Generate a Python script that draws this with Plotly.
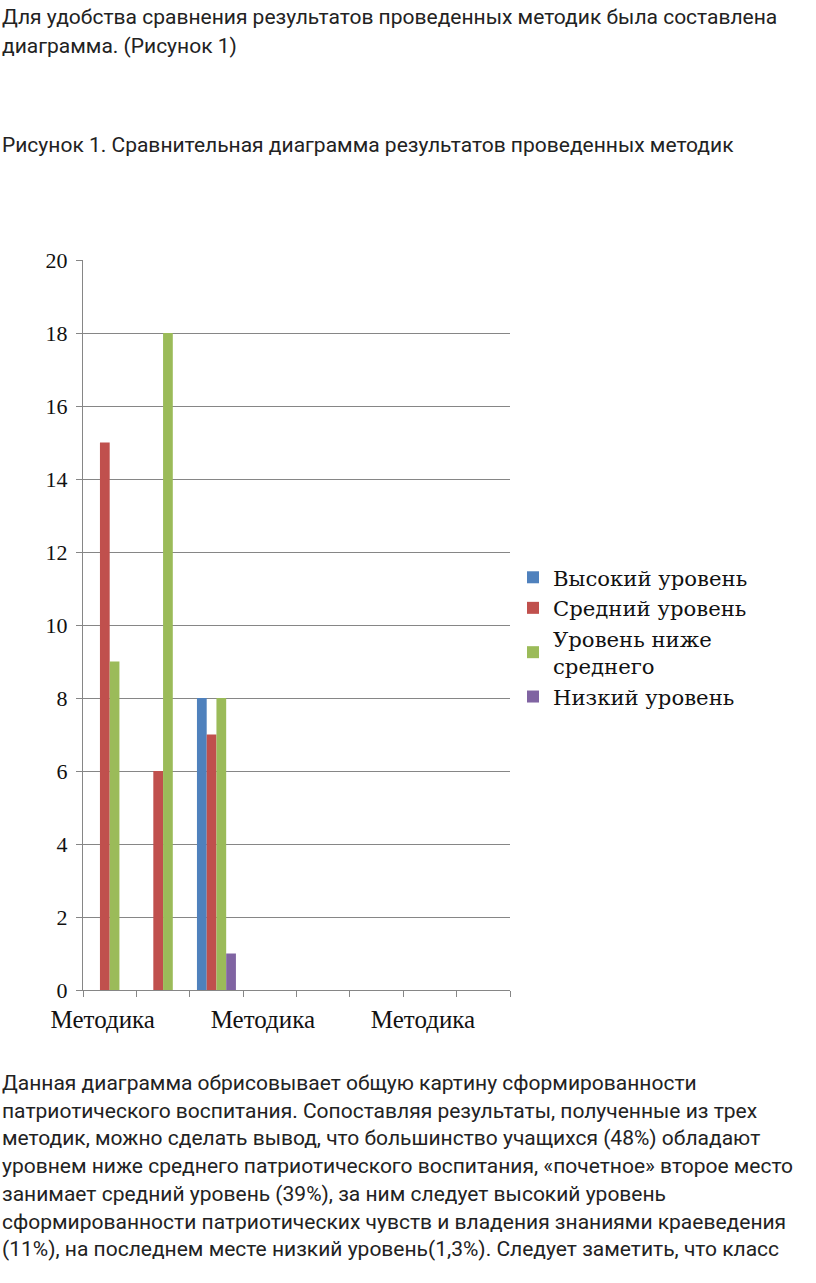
import plotly.graph_objects as go

W, H = 816, 1283

# chart data
slots = list(range(8))
tick_labels = ["Методика", "Методика", "Методика"]
tick_slots = [0, 3, 6]
series_names = ["Высокий уровень", "Средний уровень", "Уровень ниже<br>среднего", "Низкий уровень"]
high = [0, 0, 8, 0, 0, 0, 0, 0]
mid = [15, 6, 7, 0, 0, 0, 0, 0]
below_mid = [9, 18, 8, 0, 0, 0, 0, 0]
low = [0, 0, 1, 0, 0, 0, 0, 0]
colors = ["#4F81BD", "#C0504D", "#9BBB59", "#8064A2"]

top_lines = [
    "Для удобства сравнения результатов проведенных методик была составлена",
    "диаграмма. (Рисунок 1)",
]
caption = "Рисунок 1. Сравнительная диаграмма результатов проведенных методик"
bottom_lines = [
    "Данная диаграмма обрисовывает общую картину сформированности",
    "патриотического воспитания. Сопоставляя результаты, полученные из трех",
    "методик, можно сделать вывод, что большинство учащихся (48%) обладают",
    "уровнем ниже среднего патриотического воспитания, «почетное» второе место",
    "занимает средний уровень (39%), за ним следует высокий уровень",
    "сформированности патриотических чувств и владения знаниями краеведения",
    "(11%), на последнем месте низкий уровень(1,3%). Следует заметить, что класс",
]


def px_x(x):
    return x / W


def px_y(y):
    return 1 - y / H


fig = go.Figure()
for name, vals, col in zip(series_names, [high, mid, below_mid, low], colors):
    fig.add_trace(go.Bar(x=slots, y=vals, name=name, marker=dict(color=col, line=dict(width=0))))

text_font = dict(family="Roboto", size=21, color="#222222")
annotations = []
for i, line in enumerate(top_lines):
    annotations.append(dict(text=line, x=0, y=px_y(17 + i * 29), xref="paper", yref="paper",
                            xanchor="left", yanchor="middle", showarrow=False, font=text_font))
annotations.append(dict(text=caption, x=0, y=px_y(145), xref="paper", yref="paper",
                        xanchor="left", yanchor="middle", showarrow=False, font=text_font))
for i, line in enumerate(bottom_lines):
    annotations.append(dict(text=line, x=0, y=px_y(1083 + i * 27.7), xref="paper", yref="paper",
                            xanchor="left", yanchor="middle", showarrow=False, font=text_font))

serif = "Liberation Serif"
fig.update_layout(
    width=W, height=H,
    margin=dict(l=0, r=0, t=0, b=0, pad=0, autoexpand=False),
    paper_bgcolor="white", plot_bgcolor="white",
    barmode="group", bargap=0.27, bargroupgap=0,
    showlegend=True,
    legend=dict(x=px_x(513), y=px_y(557), xanchor="left", yanchor="top",
                font=dict(family="DejaVu Serif", size=21.2, color="#111111"),
                tracegroupgap=0, itemwidth=30),
    annotations=annotations,
    xaxis=dict(
        domain=[px_x(83), px_x(510)],
        range=[-0.5, 7.5],
        automargin=False,
        tickmode="array",
        tickvals=[s - 0.13 for s in tick_slots],
        ticktext=tick_labels,
        ticks="",
        ticklabelstandoff=7,
        showgrid=False,
        showline=True, linecolor="#868686", linewidth=1.3,
        tickfont=dict(family=serif, size=25, color="#111111"),
        minor=dict(ticks="outside", tick0=-0.5, dtick=1, ticklen=6,
                   tickcolor="#868686", showgrid=False),
        zeroline=False,
    ),
    yaxis=dict(
        domain=[px_y(990), px_y(260)],
        range=[0, 20],
        automargin=False,
        dtick=2,
        ticks="outside", ticklen=6, tickcolor="#868686",
        showline=True, linecolor="#868686", linewidth=1.3,
        showgrid=True, gridcolor="#868686", gridwidth=1.3,
        zeroline=False,
        tickfont=dict(family=serif, size=22, color="#111111"),
        ticklabelstandoff=4,
    ),
)

fig.write_html("out.html", config={"displayModeBar": False},
               post_script="document.body.style.margin='0';")
